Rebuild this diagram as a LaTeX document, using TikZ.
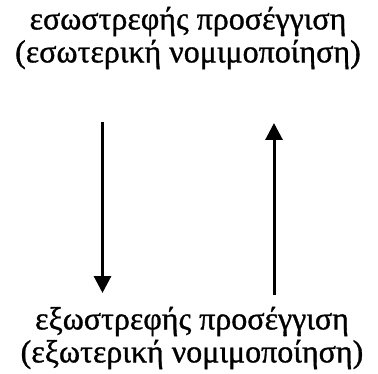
\documentclass[tikz,border=0pt]{standalone}
\usepackage{fontspec}
\setmainfont[FakeBold=1]{Liberation Serif}
\usetikzlibrary{arrows.meta}
\begin{document}
\begin{tikzpicture}[x=1pt, y=1pt,
  approach/.style={align=center, inner sep=0pt, font=\fontsize{32}{33}\selectfont},
  arrow/.style={-{Triangle[width=17pt,length=17pt]}, line width=3pt}
]
  \useasboundingbox (0,0) rectangle (378,373);
  \node[approach] (inward)  at (188,335) {εσωστρεφής προσέγγιση\\(εσωτερική νομιμοποίηση)};
  \node[approach] (outward) at (192,35)  {εξωστρεφής προσέγγιση\\(εξωτερική νομιμοποίηση)};

  \coordinate (down top) at (102.5,251);
  \coordinate (down end) at (102.5,80);
  \coordinate (up start) at (274,78);
  \coordinate (up end)   at (274,250);

  \draw[arrow] (down top) -- (down end);
  \draw[arrow] (up start) -- (up end);
\end{tikzpicture}
\end{document}
